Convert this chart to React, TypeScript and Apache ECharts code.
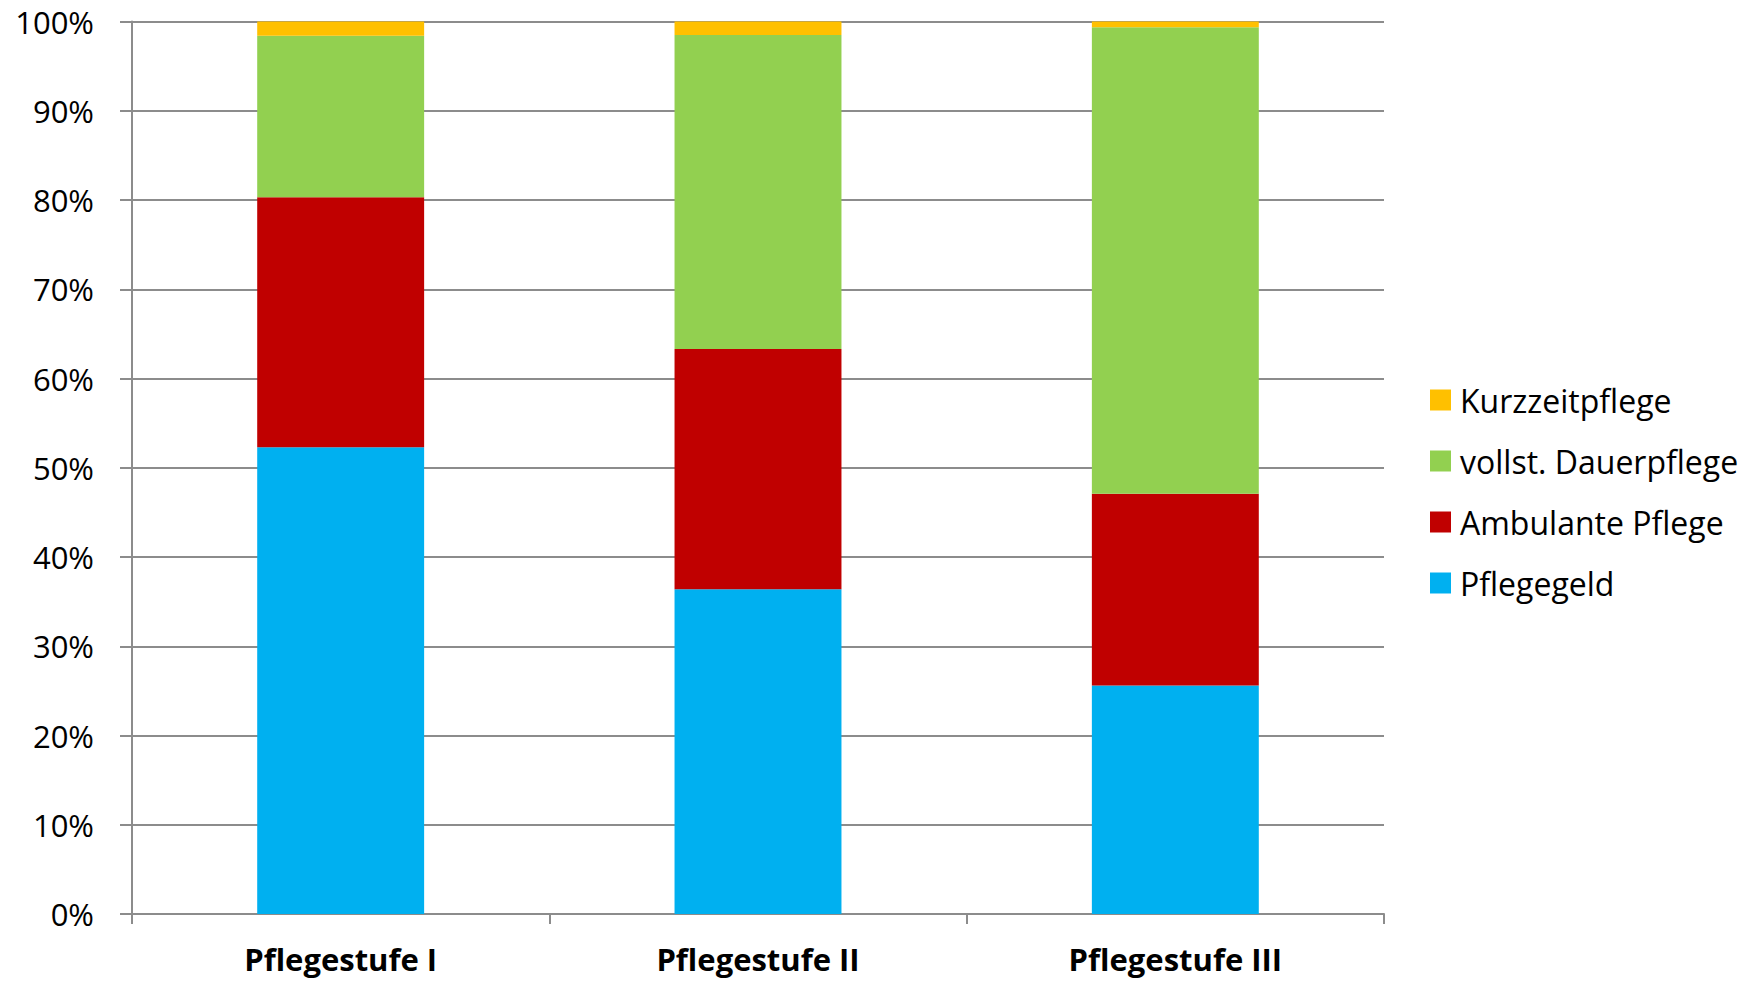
import React, { useEffect, useRef } from "react";
import * as echarts from "echarts";

const categories = ["Pflegestufe I", "Pflegestufe II", "Pflegestufe III"];
const seriesNames = ["Pflegegeld", "Ambulante Pflege", "vollst. Dauerpflege", "Kurzzeitpflege"];
const pflegegeld = [52.3, 36.4, 25.6];
const ambulante = [28.0, 26.9, 21.5];
const dauerpflege = [18.1, 35.2, 52.25];
const kurzzeit = [1.6, 1.5, 0.65];
const colors = ["#00B0F0", "#C00000", "#92D050", "#FFC000"];
const legendOrder = ["Kurzzeitpflege", "vollst. Dauerpflege", "Ambulante Pflege", "Pflegegeld"];

const FONT = "Open Sans";

export default function App() {
  const ref = useRef<HTMLDivElement>(null);
  useEffect(() => {
    if (!ref.current) return;
    const chart = echarts.init(ref.current, undefined, { renderer: "svg" });
    const values = [pflegegeld, ambulante, dauerpflege, kurzzeit];
    chart.setOption({
      animation: false,
      backgroundColor: "#ffffff",
      grid: { left: 132, right: 380, top: 21.5, bottom: 67, containLabel: false },
      legend: {
        orient: "vertical",
        left: 1430,
        top: 384,
        padding: 0,
        itemWidth: 21,
        itemHeight: 21,
        itemGap: 29,
        icon: "rect",
        data: legendOrder,
        textStyle: { fontFamily: FONT, fontSize: 32, color: "#000", lineHeight: 30, padding: [0, 0, 0, 4] },
      },
      xAxis: {
        type: "category",
        data: categories,
        axisLine: { lineStyle: { color: "#8c8c8c", width: 2 } },
        axisTick: { show: true, length: 10, lineStyle: { color: "#8c8c8c", width: 2 } },
        axisLabel: { fontFamily: FONT, fontSize: 31, fontWeight: "bold", color: "#000", margin: 29 },
      },
      yAxis: {
        type: "value",
        min: 0,
        max: 100,
        interval: 10,
        axisLine: { show: true, lineStyle: { color: "#8c8c8c", width: 2 } },
        axisTick: { show: true, length: 12, lineStyle: { color: "#8c8c8c", width: 2 } },
        splitLine: { lineStyle: { color: "#8c8c8c", width: 2 } },
        axisLabel: { fontFamily: FONT, fontSize: 31, color: "#000", margin: 38, formatter: "{value}%" },
      },
      series: seriesNames.map((name, i) => ({
        name,
        type: "bar",
        stack: "total",
        barWidth: "40%",
        itemStyle: { color: colors[i] },
        data: values[i],
      })),
    });
    return () => chart.dispose();
  }, []);
  return <div ref={ref} style={{ position: "fixed", left: 0, top: 0, width: 1764, height: 981 }} />;
}
